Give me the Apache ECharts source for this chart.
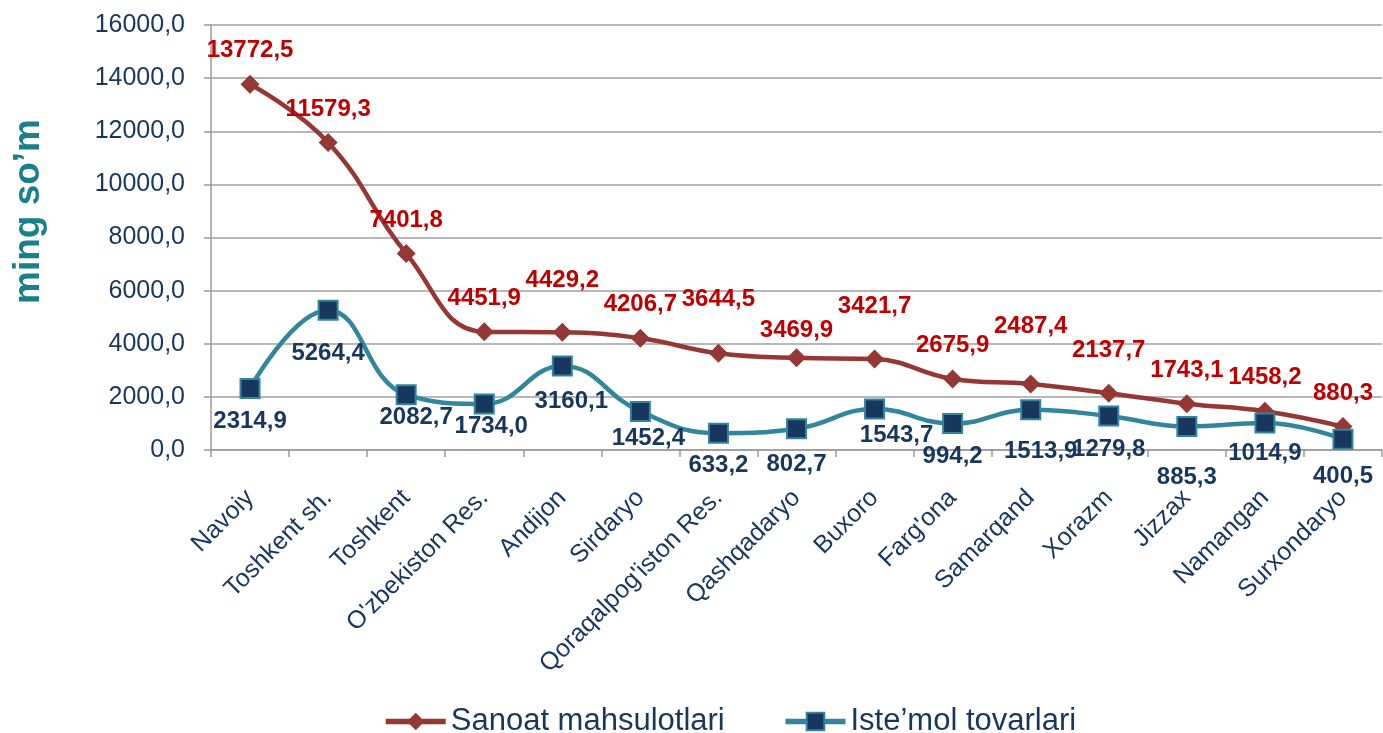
<!DOCTYPE html>
<html>
<head>
<meta charset="utf-8">
<script src="https://cdn.jsdelivr.net/npm/echarts@6/dist/echarts.min.js"></script>
<style>
  html, body { margin: 0; padding: 0; background: #fff; }
  #chart { width: 1383px; height: 733px; }
</style>
</head>
<body>
<div id="chart"></div>
<script>
// viloyatlar
const regions = [
  "Navoiy", "Toshkent sh.", "Toshkent", "O'zbekiston Res.", "Andijon", "Sirdaryo",
  "Qoraqalpog'iston Res.", "Qashqadaryo", "Buxoro", "Farg'ona", "Samarqand",
  "Xorazm", "Jizzax", "Namangan", "Surxondaryo"
];
const sanoat = [
  13772.5, 11579.3, 7401.8, 4451.9, 4429.2, 4206.7, 3644.5, 3469.9,
  3421.7, 2675.9, 2487.4, 2137.7, 1743.1, 1458.2, 880.3
];
const istemol = [
  2314.9, 5264.4, 2082.7, 1734.0, 3160.1, 1452.4, 633.2, 802.7,
  1543.7, 994.2, 1513.9, 1279.8, 885.3, 1014.9, 400.5
];
const yTicks = [0, 2000, 4000, 6000, 8000, 10000, 12000, 14000, 16000];

// label nudges (px) so they sit like in the original
const sanoatLabelDy = [0, 0, 0, 0, -18, 0, -20, 6, -19, 0, -24, -9, 0, 0, 0];
const istemolLabelShift = [
  [0, 0], [0, 11], [10, -10], [7, -10], [9, 3], [8, -6], [0, 0], [0, 3],
  [22, -6], [0, 0], [10, 9], [0, 1], [0, 18], [0, -2], [0, 5]
];

const fmt = (v) => v.toFixed(1).replace(".", ",");

const chart = echarts.init(document.getElementById("chart"));

const navy = "#17375E";
const redLine = "#953735";
const teal = "#31859C";

chart.setOption({
  backgroundColor: "#fff",
  animation: false,
  textStyle: { fontFamily: "Liberation Sans, Arial, sans-serif" },
  grid: { left: 211, right: 1, top: 25, bottom: 283 },
  legend: {
    left: 378,
    top: 701,
    itemWidth: 60,
    itemHeight: 22,
    itemGap: 58,
    lineStyle: { width: 5.5 },
    textStyle: { fontSize: 31, color: navy },
    data: ["Sanoat mahsulotlari", "Iste’mol tovarlari"]
  },
  xAxis: {
    type: "category",
    data: regions,
    boundaryGap: true,
    axisLine: { lineStyle: { color: "#9a9a9a", width: 1.5 } },
    axisTick: { show: true, length: 7, lineStyle: { color: "#9a9a9a", width: 1.5 } },
    axisLabel: {
      interval: 0,
      rotate: 45,
      fontSize: 25,
      color: navy,
      margin: 44
    }
  },
  yAxis: {
    type: "value",
    min: yTicks[0],
    max: yTicks[yTicks.length - 1],
    interval: 2000,
    name: "ming so’m",
    nameLocation: "middle",
    nameGap: 164,
    nameTextStyle: {
      fontSize: 37,
      fontWeight: "bold",
      color: "#1A7F8C",
      padding: [0, 0, 0, 52]
    },
    axisLine: { show: true, lineStyle: { color: "#9a9a9a", width: 1.5 } },
    axisTick: { show: true, length: 7, lineStyle: { color: "#9a9a9a", width: 1.5 } },
    splitLine: { lineStyle: { color: "#a0a0a0", width: 1.5 } },
    axisLabel: {
      fontSize: 25,
      color: navy,
      margin: 26,
      formatter: (v) => fmt(v)
    }
  },
  series: [
    {
      name: "Sanoat mahsulotlari",
      type: "line",
      smooth: 0.45,
      symbol: "diamond",
      symbolSize: 19,
      lineStyle: { color: redLine, width: 4.5 },
      itemStyle: { color: redLine },
      data: sanoat.map((v, i) => ({
        value: v,
        label: { offset: [0, sanoatLabelDy[i]] }
      })),
      label: {
        show: true,
        position: "top",
        distance: 12,
        color: "#C00000",
        fontSize: 24,
        fontWeight: "bold",
        formatter: (p) => fmt(p.value)
      },
      z: 3
    },
    {
      name: "Iste’mol tovarlari",
      type: "line",
      smooth: 0.45,
      symbol: "rect",
      symbolSize: 19,
      lineStyle: { color: teal, width: 4.5 },
      itemStyle: { color: navy, borderColor: teal, borderWidth: 2 },
      data: istemol.map((v, i) => ({
        value: v,
        label: { offset: istemolLabelShift[i] }
      })),
      label: {
        show: true,
        position: "bottom",
        distance: 10,
        color: navy,
        fontSize: 24,
        fontWeight: "bold",
        formatter: (p) => fmt(p.value)
      },
      z: 4
    }
  ]
});
</script>
</body>
</html>
